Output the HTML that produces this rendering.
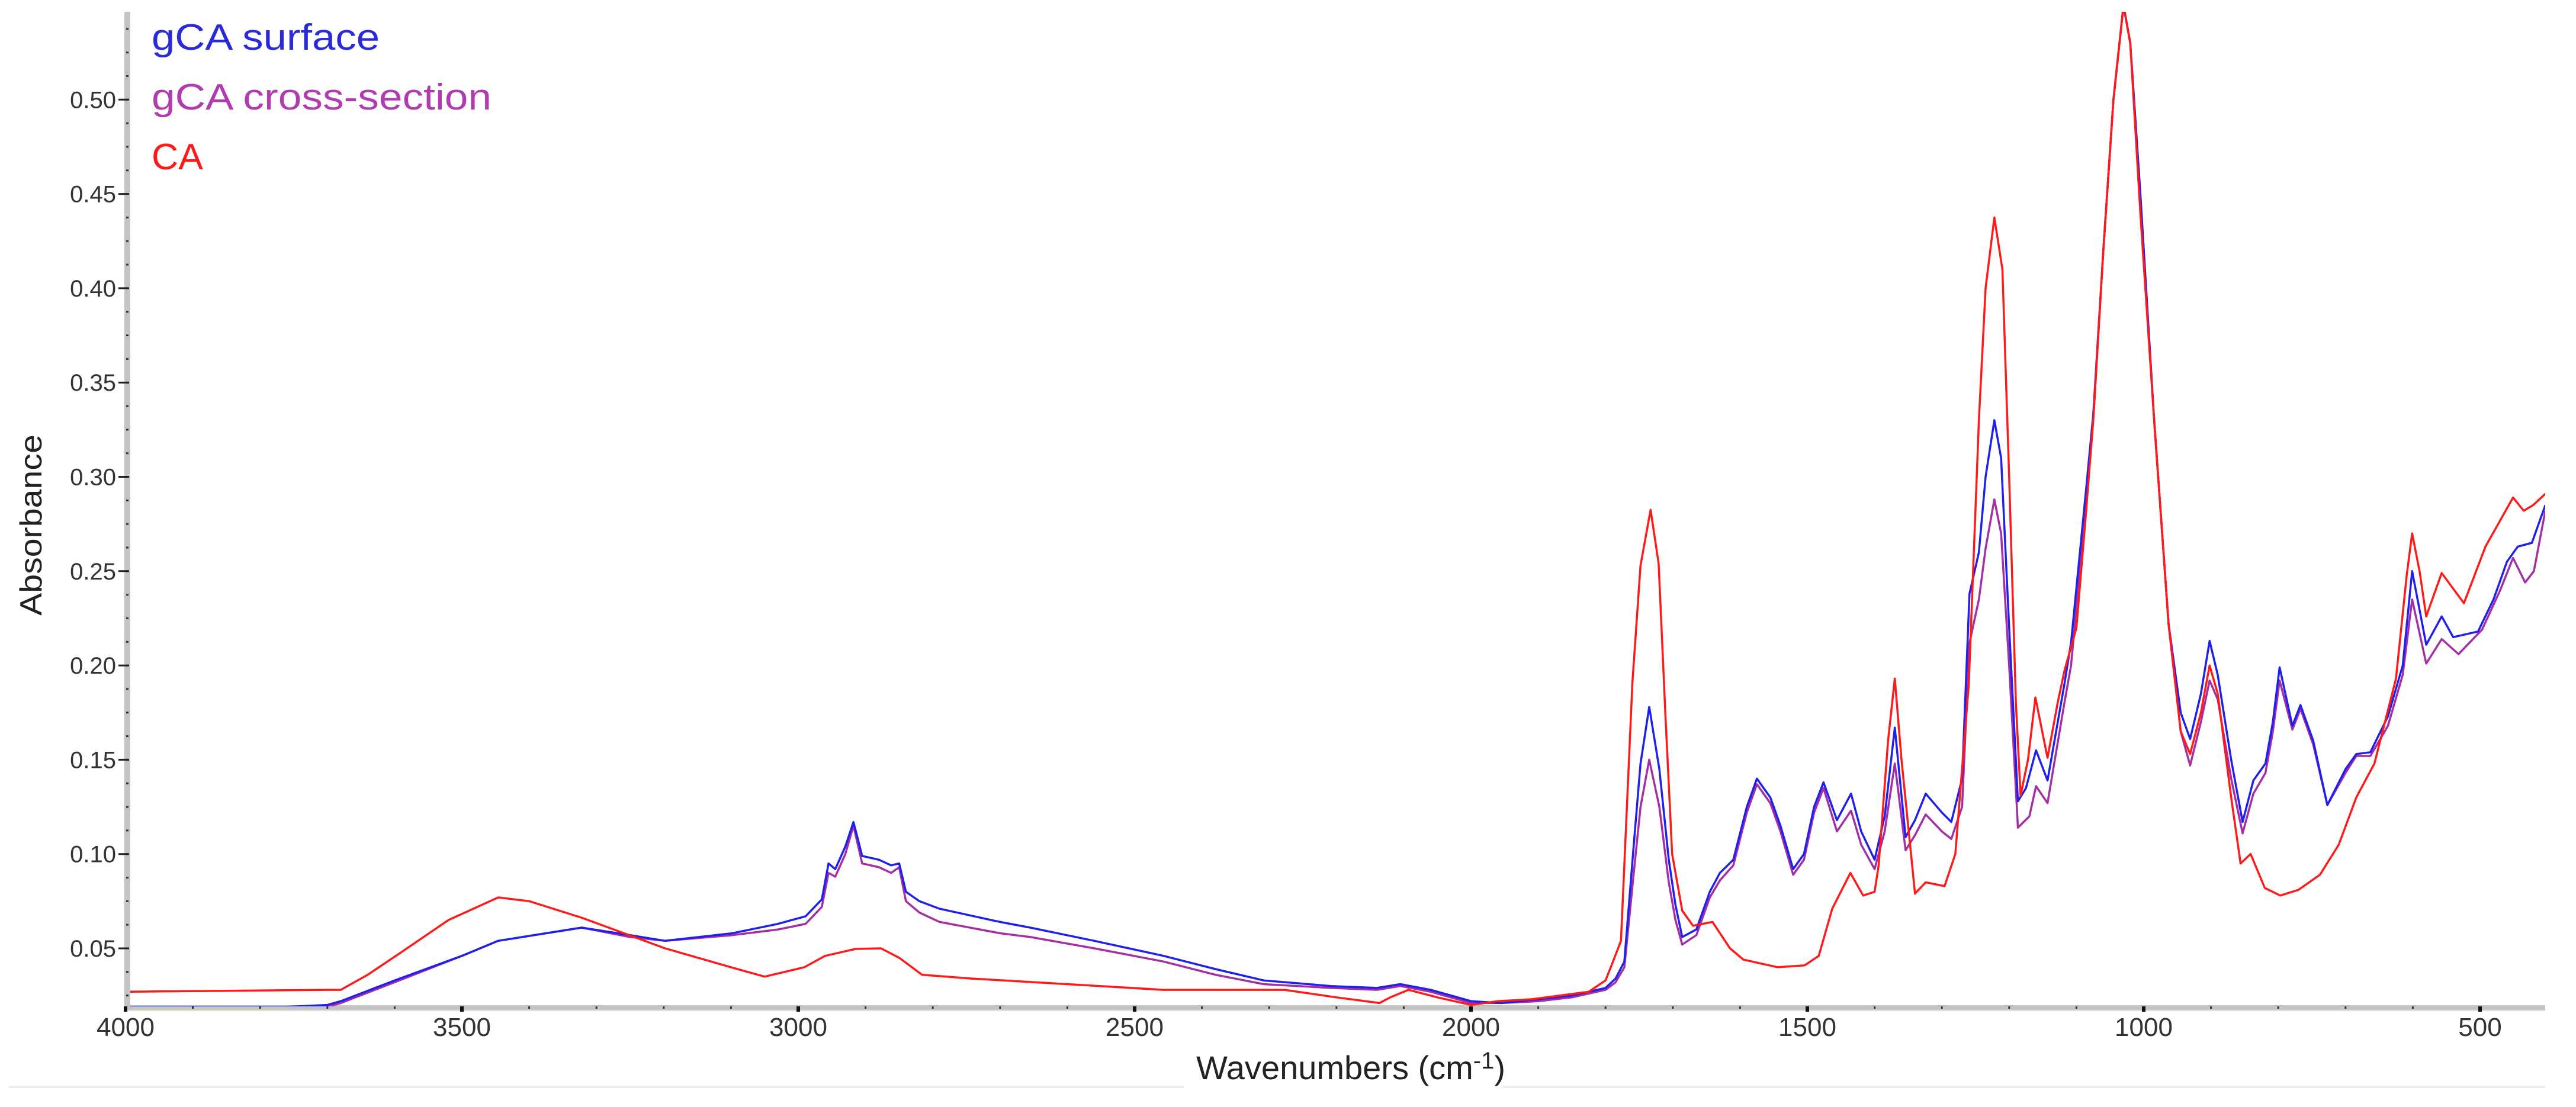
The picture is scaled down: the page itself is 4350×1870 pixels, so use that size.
<!DOCTYPE html>
<html><head><meta charset="utf-8"><style>
html,body{margin:0;padding:0;background:#fff;}
svg{display:block;font-family:"Liberation Sans",sans-serif;}
</style></head><body>
<svg id="chart" width="4350" height="1870" viewBox="0 0 4350 1870" xmlns="http://www.w3.org/2000/svg">
<defs><clipPath id="plotclip"><rect x="220" y="20" width="4078" height="1680"/></clipPath></defs>
<rect x="0" y="0" width="4350" height="1870" fill="#fff"/>
<g id="yaxis"></g>
<g id="xaxis"></g>
<g id="series" clip-path="url(#plotclip)"></g>
<text x="0" y="0" transform="translate(70,887) rotate(-90)" text-anchor="middle" font-size="52" fill="#222" textLength="306" lengthAdjust="spacingAndGlyphs">Absorbance</text>
<text x="2020" y="1823" font-size="56" fill="#222">Wavenumbers (cm<tspan dy="-18" font-size="40">-1</tspan><tspan dy="18">)</tspan></text>
<line x1="15" y1="1836" x2="2000" y2="1836" stroke="#eeeeee" stroke-width="4"/>
<line x1="2537" y1="1836" x2="4298" y2="1836" stroke="#eeeeee" stroke-width="4"/>
<g>
<text x="256" y="84" font-size="62" fill="#2a2ad8" textLength="385" lengthAdjust="spacingAndGlyphs">gCA surface</text>
<text x="256" y="185" font-size="62" fill="#b03cb0" textLength="574" lengthAdjust="spacingAndGlyphs">gCA cross-section</text>
<text x="256" y="286" font-size="62" fill="#ff1a1a" textLength="87" lengthAdjust="spacingAndGlyphs">CA</text>
</g>
</svg>
<script>
const yTicks = [0.05,0.10,0.15,0.20,0.25,0.30,0.35,0.40,0.45,0.50];
const yTickLabels = ["0.05","0.10","0.15","0.20","0.25","0.30","0.35","0.40","0.45","0.50"];
const xTicks = [4000,3500,3000,2500,2000,1500,1000,500];
const xTickLabels = ["4000","3500","3000","2500","2000","1500","1000","500"];

const surfWn = [4000,3760,3700,3680,3600,3500,3446,3322,3250,3198,3098,3030,2989,2965,2955,2945,2930,2918,2905,2880,2862,2850,2840,2820,2790,2700,2655,2560,2457,2380,2308,2208,2140,2105,2060,2030,2000,1955,1900,1850,1800,1785,1772,1758,1748,1735,1720,1706,1696,1686,1665,1645,1630,1610,1590,1575,1555,1540,1521,1505,1490,1476,1456,1435,1420,1400,1385,1370,1354,1340,1324,1300,1286,1270,1259,1245,1235,1222,1212,1200,1187,1175,1160,1143,1118,1108,1086,1075,1060,1045,1030,1020,1005,985,963,945,931,915,902,890,870,853,837,819,808,798,779,767,748,727,700,684,663,637,615,601,580,557,540,503,480,460,444,423,403];
const surfAbs = [0.019,0.019,0.020,0.022,0.033,0.046,0.054,0.061,0.057,0.054,0.058,0.063,0.067,0.076,0.095,0.092,0.104,0.117,0.099,0.097,0.094,0.095,0.080,0.075,0.071,0.064,0.061,0.054,0.046,0.039,0.033,0.030,0.029,0.031,0.028,0.025,0.022,0.021,0.023,0.025,0.029,0.034,0.043,0.105,0.148,0.178,0.145,0.097,0.073,0.056,0.060,0.080,0.090,0.097,0.125,0.140,0.130,0.115,0.092,0.100,0.125,0.138,0.118,0.132,0.112,0.097,0.120,0.167,0.109,0.118,0.132,0.122,0.117,0.140,0.238,0.260,0.300,0.330,0.310,0.220,0.128,0.135,0.155,0.139,0.190,0.212,0.292,0.333,0.420,0.500,0.550,0.530,0.450,0.333,0.222,0.175,0.161,0.185,0.213,0.195,0.150,0.117,0.139,0.148,0.170,0.199,0.168,0.179,0.160,0.126,0.145,0.153,0.154,0.173,0.200,0.250,0.211,0.226,0.215,0.218,0.235,0.255,0.263,0.265,0.285];

const crossWn = [4000,3700,3680,3600,3500,3446,3322,3250,3198,3098,3030,2989,2965,2955,2945,2930,2918,2905,2880,2862,2850,2840,2820,2790,2700,2655,2560,2457,2380,2308,2208,2140,2105,2060,2030,2000,1955,1900,1850,1800,1785,1772,1758,1748,1735,1720,1706,1696,1686,1665,1645,1630,1610,1590,1575,1555,1540,1521,1505,1490,1476,1456,1435,1420,1400,1385,1370,1354,1340,1324,1300,1286,1270,1259,1245,1235,1222,1212,1200,1187,1170,1160,1143,1118,1108,1086,1075,1060,1045,1030,1020,1005,985,963,945,931,915,902,890,870,853,837,819,808,798,779,767,748,727,700,684,663,637,615,601,580,557,532,497,470,451,433,420,403];
const crossAbs = [0.018,0.019,0.021,0.032,0.046,0.054,0.061,0.056,0.054,0.057,0.060,0.063,0.072,0.090,0.088,0.100,0.115,0.095,0.093,0.090,0.093,0.075,0.069,0.064,0.058,0.056,0.050,0.043,0.036,0.031,0.029,0.028,0.030,0.027,0.024,0.021,0.021,0.022,0.024,0.028,0.032,0.040,0.090,0.125,0.150,0.125,0.085,0.065,0.052,0.057,0.077,0.086,0.094,0.122,0.137,0.127,0.112,0.089,0.097,0.122,0.135,0.112,0.123,0.105,0.092,0.112,0.148,0.102,0.110,0.121,0.112,0.108,0.125,0.212,0.235,0.262,0.288,0.270,0.200,0.114,0.120,0.136,0.127,0.180,0.200,0.285,0.330,0.420,0.500,0.550,0.530,0.450,0.333,0.222,0.165,0.147,0.170,0.192,0.182,0.140,0.111,0.132,0.143,0.165,0.192,0.166,0.177,0.158,0.126,0.143,0.152,0.152,0.168,0.195,0.235,0.201,0.214,0.206,0.219,0.240,0.257,0.244,0.250,0.282];

const caWn = [4000,3700,3680,3640,3594,3520,3446,3400,3320,3198,3100,3050,2991,2960,2915,2877,2850,2816,2743,2600,2457,2277,2200,2136,2120,2093,2050,2000,1960,1910,1825,1800,1790,1777,1760,1748,1733,1721,1711,1701,1686,1670,1641,1615,1595,1544,1504,1483,1463,1436,1417,1400,1394,1380,1370,1360,1340,1324,1296,1280,1260,1245,1235,1222,1210,1200,1190,1183,1172,1161,1143,1128,1118,1100,1086,1075,1060,1045,1030,1020,1005,985,963,945,931,915,902,890,870,856,841,820,797,770,738,710,684,657,625,609,601,590,580,557,524,492,451,435,421,403];
const caAbs = [0.027,0.028,0.028,0.036,0.047,0.065,0.077,0.075,0.066,0.050,0.040,0.035,0.040,0.046,0.0497,0.050,0.045,0.036,0.034,0.031,0.028,0.028,0.024,0.021,0.024,0.028,0.024,0.020,0.022,0.023,0.027,0.033,0.042,0.054,0.191,0.253,0.2825,0.254,0.174,0.100,0.070,0.062,0.064,0.050,0.044,0.040,0.041,0.046,0.071,0.090,0.078,0.080,0.094,0.160,0.193,0.150,0.079,0.085,0.083,0.100,0.190,0.330,0.400,0.4375,0.410,0.300,0.180,0.131,0.150,0.183,0.151,0.180,0.197,0.220,0.280,0.330,0.420,0.500,0.550,0.530,0.440,0.333,0.222,0.165,0.153,0.175,0.200,0.185,0.130,0.095,0.100,0.082,0.078,0.081,0.089,0.105,0.130,0.148,0.193,0.248,0.270,0.250,0.226,0.249,0.233,0.263,0.289,0.282,0.285,0.291];

const NS = "http://www.w3.org/2000/svg";
function xScale(w){ return 212 + (4000 - w) * 1.136; }
function yScale(v){ return 1761.3 - 3186 * v; }
function mk(tag, attrs, parent){ const e = document.createElementNS(NS, tag); for (const k in attrs) e.setAttribute(k, attrs[k]); parent.appendChild(e); return e; }

const yAxis = document.getElementById('yaxis');
const xAxis = document.getElementById('xaxis');
const yBar = mk('rect', {x:210, y:20, width:10, height:1687, fill:'#c4c4c4'}, yAxis);


const xBar = mk('rect', {x:210, y:1698, width:4088, height:9, fill:'#c4c4c4'}, xAxis);



for (let v = 0.0125; v < 0.55; v += 0.0125) {
  const y = yScale(v);
  if (y < 22 || y > 1696) continue;
  const t = mk('rect', {x:213, y:y-1.5, width:4, height:3, fill:'#333'}, yAxis);
  
  
}
yTicks.forEach((v, i) => {
  const y = yScale(v);
  const t = mk('line', {x1:200, y1:y, x2:218, y2:y, stroke:'#222', 'stroke-width':3}, yAxis);
  
  
  const lb = mk('text', {x:196, y:y+14, 'text-anchor':'end', 'font-size':40, fill:'#333'}, yAxis);
  
  
  lb.textContent = yTickLabels[i];
});
for (let w = 3900; w >= 410; w -= 100) {
  const x = xScale(w);
  const t = mk('rect', {x:x-1.5, y:1700, width:3, height:4, fill:'#333'}, xAxis);
  
  
}
xTicks.forEach((w, i) => {
  const x = xScale(w);
  const t = mk('rect', {x:x-3, y:1700, width:6, height:9, fill:'#111'}, xAxis);
  
  
  const lb = mk('text', {x:x, y:1750, 'text-anchor':'middle', 'font-size':44, fill:'#333'}, xAxis);
  
  
  lb.textContent = xTickLabels[i];
});

const seriesG = document.getElementById('series');
function drawSeries(wn, abs, color, name){
  let d = '';
  for (let i = 0; i < wn.length; i++) {
    d += (i ? 'L' : 'M') + xScale(wn[i]).toFixed(1) + ',' + yScale(abs[i]).toFixed(1);
  }
  const p = mk('path', {d:d, fill:'none', stroke:color, 'stroke-width':3.5, 'stroke-linejoin':'round'}, seriesG);
  
  
}
drawSeries(crossWn, crossAbs, '#a42ea4', 'series-gca-cross-section');
drawSeries(surfWn, surfAbs, '#1f1fee', 'series-gca-surface');
drawSeries(caWn, caAbs, '#ff1a1a', 'series-ca');
</script>
</body></html>
